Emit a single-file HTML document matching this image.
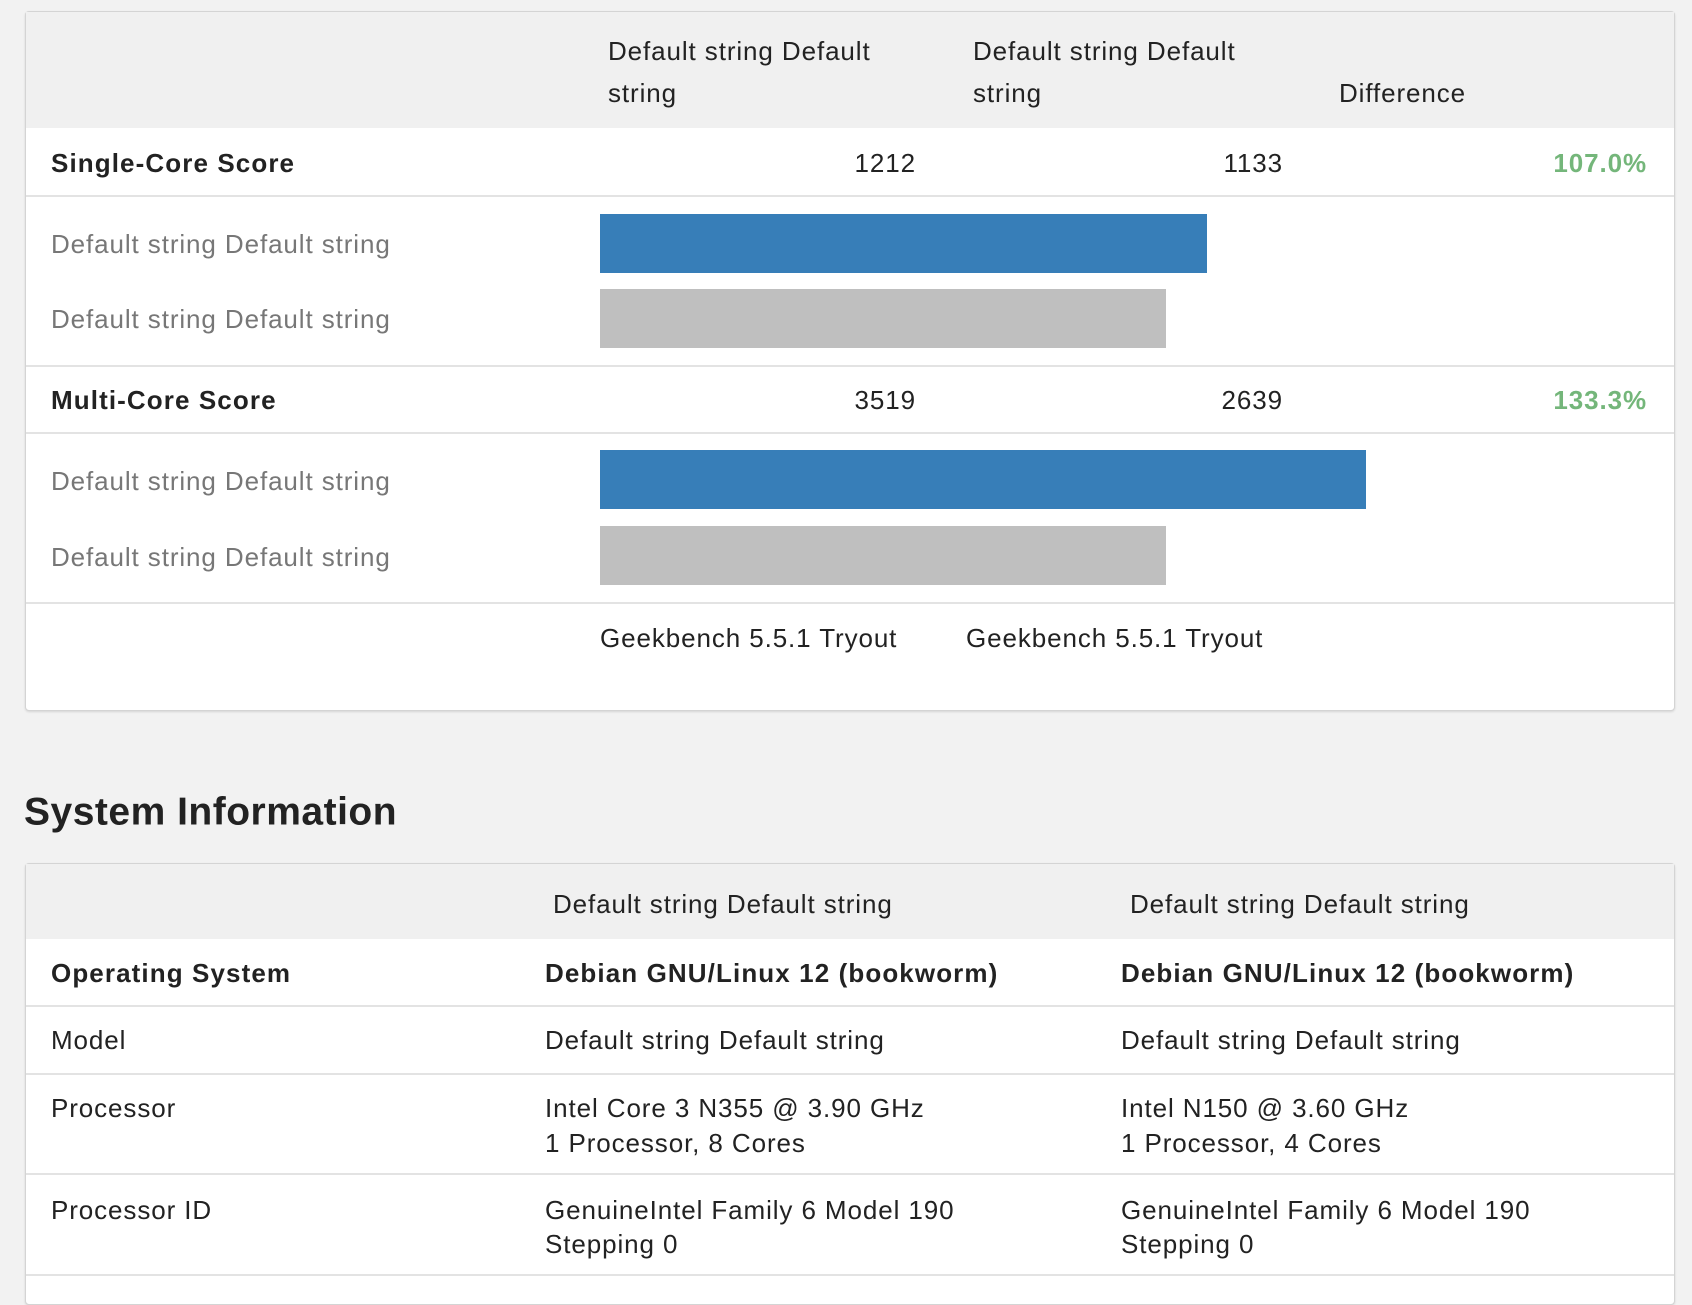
<!DOCTYPE html>
<html><head><meta charset="utf-8"><style>
body{margin:0;width:1692px;height:1282px;background:#f2f2f2;font-family:"Liberation Sans",Helvetica,sans-serif;color:#222;position:relative;overflow:hidden;font-size:26px;letter-spacing:0.9px}
.card{position:absolute;left:25px;width:1648px;background:#fff;border:1px solid #d4d4d4;border-radius:4px;box-shadow:0 1px 2px rgba(0,0,0,.12)}
.t{position:absolute;white-space:nowrap;line-height:1;transform:translateY(-50%)}
.hl{position:absolute;left:0;right:0;height:2px;background:#e3e3e3}
.hdr{position:absolute;left:0;right:0;top:0;background:#f0f0f0}
.b{font-weight:bold;letter-spacing:1.1px}
.g{color:#777}
.gr{color:#74b67a;font-weight:bold}
.r{text-align:right;transform:translate(-100%,-50%)}
.bar{position:absolute}
</style></head><body>
<div class="card" style="top:11px;height:698px">
<div class="hdr" style="height:116px"></div>
<div class="t" style="left:582px;top:39px">Default string Default</div>
<div class="t" style="left:582px;top:81px">string</div>
<div class="t" style="left:947px;top:39px">Default string Default</div>
<div class="t" style="left:947px;top:81px">string</div>
<div class="t" style="left:1313px;top:81px">Difference</div>
<div class="t b" style="left:25px;top:151px">Single-Core Score</div>
<div class="t r" style="left:890px;top:151px">1212</div>
<div class="t r" style="left:1257px;top:151px">1133</div>
<div class="t gr r" style="left:1621px;top:151px">107.0%</div>
<div class="hl" style="top:183px"></div>
<div class="t g" style="left:25px;top:232px">Default string Default string</div>
<div class="t g" style="left:25px;top:307px">Default string Default string</div>
<div class="bar" style="left:574px;top:202px;width:607px;height:59px;background:#377eb8"></div>
<div class="bar" style="left:574px;top:277px;width:566px;height:59px;background:#bfbfbf"></div>
<div class="hl" style="top:353px"></div>
<div class="t b" style="left:25px;top:388px">Multi-Core Score</div>
<div class="t r" style="left:890px;top:388px">3519</div>
<div class="t r" style="left:1257px;top:388px">2639</div>
<div class="t gr r" style="left:1621px;top:388px">133.3%</div>
<div class="hl" style="top:420px"></div>
<div class="t g" style="left:25px;top:469px">Default string Default string</div>
<div class="t g" style="left:25px;top:545px">Default string Default string</div>
<div class="bar" style="left:574px;top:438px;width:766px;height:59px;background:#377eb8"></div>
<div class="bar" style="left:574px;top:514px;width:566px;height:59px;background:#bfbfbf"></div>
<div class="hl" style="top:590px"></div>
<div class="t" style="left:574px;top:626px">Geekbench 5.5.1 Tryout</div>
<div class="t" style="left:940px;top:626px">Geekbench 5.5.1 Tryout</div>
</div>
<div class="t" style="left:24px;top:812px;font-size:39px;font-weight:bold;letter-spacing:0.5px">System Information</div>
<div class="card" style="top:863px;height:440px">
<div class="hdr" style="height:75px"></div>
<div class="t" style="left:527px;top:40px">Default string Default string</div>
<div class="t" style="left:1104px;top:40px">Default string Default string</div>
<div class="t b" style="left:25px;top:109px">Operating System</div>
<div class="t b" style="left:519px;top:109px">Debian GNU/Linux 12 (bookworm)</div>
<div class="t b" style="left:1095px;top:109px">Debian GNU/Linux 12 (bookworm)</div>
<div class="hl" style="top:141px"></div>
<div class="t" style="left:25px;top:176px">Model</div>
<div class="t" style="left:519px;top:176px">Default string Default string</div>
<div class="t" style="left:1095px;top:176px">Default string Default string</div>
<div class="hl" style="top:209px"></div>
<div class="t" style="left:25px;top:244px">Processor</div>
<div class="t" style="left:519px;top:244px">Intel Core 3 N355 @ 3.90 GHz</div>
<div class="t" style="left:519px;top:279px">1 Processor, 8 Cores</div>
<div class="t" style="left:1095px;top:244px">Intel N150 @ 3.60 GHz</div>
<div class="t" style="left:1095px;top:279px">1 Processor, 4 Cores</div>
<div class="hl" style="top:309px"></div>
<div class="t" style="left:25px;top:346px">Processor ID</div>
<div class="t" style="left:519px;top:346px">GenuineIntel Family 6 Model 190</div>
<div class="t" style="left:519px;top:380px">Stepping 0</div>
<div class="t" style="left:1095px;top:346px">GenuineIntel Family 6 Model 190</div>
<div class="t" style="left:1095px;top:380px">Stepping 0</div>
<div class="hl" style="top:410px"></div>
</div>
</body></html>
